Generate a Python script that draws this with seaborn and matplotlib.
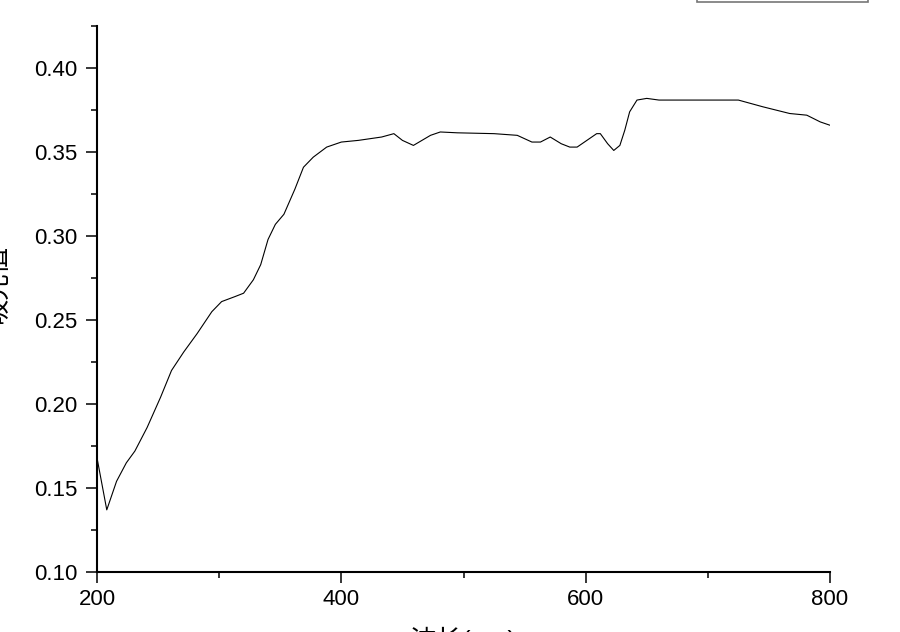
import matplotlib
matplotlib.use('Agg')
import matplotlib.pyplot as plt
from matplotlib.ticker import MultipleLocator, FormatStrFormatter
import seaborn as sns

# absorbance spectrum
wavelength = [200, 208, 216, 224, 231, 241, 252, 261, 271, 282, 294, 302, 313, 320,
              328, 334, 340, 346, 353, 362, 369, 377, 388, 400, 414, 433, 443, 450,
              459, 466, 473, 481, 495, 525, 544, 556, 563, 571, 580, 587, 593, 601,
              609, 612, 618, 623, 628, 632, 636, 642, 650, 660, 725, 745, 767, 781,
              792, 800]
absorbance = [0.168, 0.137, 0.154, 0.165, 0.172, 0.186, 0.204, 0.220, 0.231, 0.242, 0.255,
              0.261, 0.264, 0.266, 0.274, 0.283, 0.298, 0.307, 0.313, 0.328, 0.341, 0.347,
              0.353, 0.356, 0.357, 0.359, 0.361, 0.357, 0.354, 0.357, 0.360, 0.362, 0.3615,
              0.361, 0.360, 0.356, 0.356, 0.359, 0.355, 0.353, 0.353, 0.357, 0.361, 0.361,
              0.355, 0.351, 0.354, 0.363, 0.374, 0.381, 0.382, 0.381, 0.381, 0.377, 0.373,
              0.372, 0.368, 0.366]

x_ticks = [200, 400, 600, 800]
y_ticks = [0.10, 0.15, 0.20, 0.25, 0.30, 0.35, 0.40]

sns.set_theme(style='ticks')
plt.rcParams['font.family'] = ['Liberation Sans', 'Noto Sans CJK SC']
plt.rcParams['axes.unicode_minus'] = False

fig = plt.figure(figsize=(9, 6.32), dpi=100)
ax = fig.add_axes([97 / 900, 1 - 572 / 632, 733 / 900, 546 / 632])

sns.lineplot(x=wavelength, y=absorbance, color='black', linewidth=0.8,
             label='样品', ax=ax)

ax.set_xlim(200, 800)
ax.set_ylim(0.10, 0.4251)
ax.set_xticks(x_ticks)
ax.set_yticks(y_ticks)
ax.xaxis.set_minor_locator(MultipleLocator(100))
ax.yaxis.set_minor_locator(MultipleLocator(0.025))
ax.yaxis.set_major_formatter(FormatStrFormatter('%.2f'))

ax.tick_params(which='major', direction='out', length=8, width=1.1,
               labelsize=16, color='black', labelcolor='black')
ax.tick_params(axis='x', which='major', pad=4)
ax.tick_params(axis='y', which='major', pad=6)
ax.tick_params(which='minor', direction='out', length=4, width=1.1, color='black')

for side in ['top', 'right']:
    ax.spines[side].set_visible(False)
for side in ['left', 'bottom']:
    ax.spines[side].set_linewidth(1.5)
    ax.spines[side].set_color('black')

ax.set_xlabel('波长(nm)', fontsize=19, color='black')
ax.set_ylabel('吸光值', fontsize=19, color='black')
ax.xaxis.set_label_coords(0.5, -0.1)
ax.yaxis.set_label_coords(-0.119, 0.529)

# legend sits above the figure, only its bottom edge shows
leg = ax.legend(loc='lower left', bbox_to_anchor=(697 / 900, 1 - 2 / 632, 171 / 900, 0.2),
                bbox_transform=fig.transFigure, mode='expand', borderaxespad=0,
                fancybox=False, framealpha=1, edgecolor='#777777', fontsize=14)
leg.get_frame().set_linewidth(1.2)

fig.savefig('out.png', dpi=100)
